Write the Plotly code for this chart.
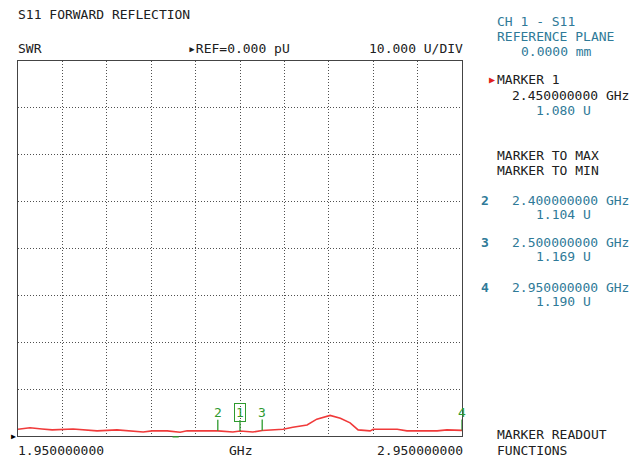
import plotly.graph_objects as go

# Trace data (frequency in GHz, SWR in U)
freq_ghz = [1.950, 1.977, 2.004, 2.027, 2.074, 2.096, 2.128, 2.173, 2.209, 2.232,
            2.252, 2.286, 2.315, 2.331, 2.400, 2.434, 2.450, 2.479, 2.500, 2.547,
            2.569, 2.601, 2.623, 2.653, 2.676, 2.698, 2.716, 2.743, 2.750, 2.804,
            2.826, 2.894, 2.916, 2.950]
swr_u = [1.45, 1.75, 1.50, 1.30, 1.50, 1.30, 1.10, 1.30, 1.10, 0.85,
         1.10, 1.10, 0.80, 1.10, 1.104, 0.85, 1.080, 0.85, 1.169, 1.45,
         1.85, 2.35, 3.60, 4.40, 3.80, 2.80, 1.30, 1.10, 1.45, 1.45,
         1.10, 1.10, 1.30, 1.190]

marker_ids = ["1", "2", "3", "4"]
marker_freq = [2.45, 2.40, 2.50, 2.95]
marker_val = [1.080, 1.104, 1.169, 1.190]
marker_freq_txt = ["2.450000000 GHz", "2.400000000 GHz", "2.500000000 GHz", "2.950000000 GHz"]
marker_val_txt = ["1.080 U", "1.104 U", "1.169 U", "1.190 U"]

x_start_txt = "1.950000000"
x_stop_txt = "2.950000000"

FONT = "DejaVu Sans Mono"
FS = 13
BLACK = "#202020"
TEAL = "#2f7a98"
GREEN = "#2e9a2e"
RED = "#f03a3a"

# page body adds an 8px margin; compensate so screen positions match
BODY = 8
W, H = 642, 459
L, R, T, B = 18, 462, 61, 436   # screen coords of plot frame

fig = go.Figure()
fig.add_trace(go.Scatter(x=freq_ghz, y=swr_u, mode="lines",
                         line=dict(color=RED, width=1.6), hoverinfo="skip",
                         showlegend=False))

grid = dict(showgrid=True, gridcolor="#505050", griddash="1px,2px", gridwidth=1,
            zeroline=False, showline=True, linecolor="#444", linewidth=1.2,
            mirror=True, ticks="", showticklabels=False)
fig.update_layout(
    width=W - BODY, height=H - BODY,
    margin=dict(l=L - BODY, r=W - R, t=T - BODY, b=H - B, pad=0),
    paper_bgcolor="white", plot_bgcolor="white",
    font=dict(family=FONT, size=FS, color=BLACK),
    xaxis=dict(range=[1.95, 2.95], dtick=0.1, tick0=1.95, **grid),
    yaxis=dict(range=[0, 80], dtick=10, **grid),
)

ann = []
pw, ph = R - L, B - T
def px(xp):
    return (xp - L) / pw
def py(yp):
    return (B - yp) / ph

def txt(x, y, s, color=BLACK, xanchor="left", size=FS, bold=False):
    if bold:
        s = "<b>" + s + "</b>"
    ann.append(dict(x=px(x), y=py(y), xref="paper", yref="paper", text=s, showarrow=False,
                    xanchor=xanchor, yanchor="middle", borderpad=0, borderwidth=0,
                    font=dict(family=FONT, size=size, color=color)))

# Header texts
txt(18, 14, "S11 FORWARD REFLECTION")
txt(18, 48, "SWR")
txt(188, 48, "\u25B8REF=0.000 pU")
txt(463, 48, "10.000 U/DIV", xanchor="right")

# Bottom texts
txt(18, 450, x_start_txt)
txt(240, 450, "GHz", xanchor="center")
txt(463, 450, x_stop_txt, xanchor="right")

# Right panel
txt(497, 22, "CH 1 - S11", TEAL)
txt(497, 37, "REFERENCE PLANE", TEAL)
txt(521, 52, "0.0000 mm", TEAL)
txt(489, 80, "\u25B6", "#e02020", size=10)
txt(497, 80, "MARKER " + marker_ids[0])
txt(512, 95, marker_freq_txt[0])
txt(536, 110, marker_val_txt[0], TEAL)
txt(497, 155, "MARKER TO MAX")
txt(497, 170, "MARKER TO MIN")
for i, yb in zip([1, 2, 3], [200, 243, 287]):
    txt(481, yb, marker_ids[i], TEAL, bold=True)
    txt(512, yb, marker_freq_txt[i], TEAL)
    txt(536, yb + 14, marker_val_txt[i], TEAL)
txt(497, 434, "MARKER READOUT")
txt(497, 450, "FUNCTIONS")

# Markers on the trace
shapes = []
for mid, f, v in zip(marker_ids, marker_freq, marker_val):
    shapes.append(dict(type="line", xref="x", yref="y", x0=f, x1=f,
                       ysizemode="pixel", yanchor=v, y0=0, y1=11,
                       line=dict(color=GREEN, width=1.3)))
    a = dict(x=f, y=v, xref="x", yref="y", text=mid, showarrow=False,
             yshift=18, xanchor="center", yanchor="middle",
             font=dict(family=FONT, size=13, color=GREEN))
    if mid == "1":
        a.update(bordercolor=GREEN, borderwidth=1, borderpad=1, bgcolor="rgba(255,255,255,0)")
    ann.append(a)

# stimulus mark under axis
shapes.append(dict(type="rect", xref="x", yref="paper", x0=2.298, x1=2.312,
                   y0=-0.004, y1=-0.0005, line=dict(width=0), fillcolor=GREEN))
# reference arrow on left
ann.append(dict(x=px(13), y=py(436), xref="paper", yref="paper", text="\u25B6",
                showarrow=False, xanchor="center", yanchor="middle",
                font=dict(family=FONT, size=8, color="black")))

fig.update_layout(annotations=ann, shapes=shapes)
fig.write_html("out.html")
